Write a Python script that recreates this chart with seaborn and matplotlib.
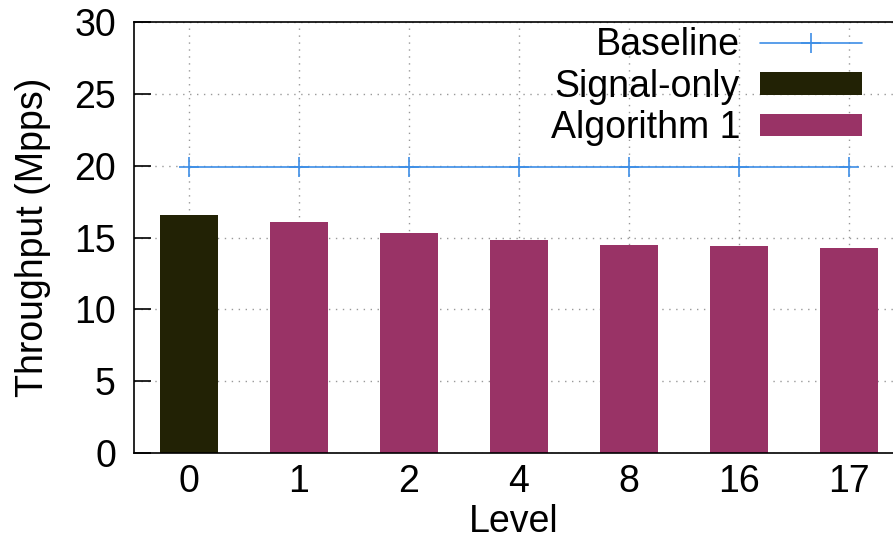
import matplotlib
matplotlib.use("Agg")
import matplotlib.pyplot as plt
import seaborn as sns
import pandas as pd
from matplotlib.patches import Patch
from matplotlib.lines import Line2D

# Throughput per level (Mpps)
levels = ["0", "1", "2", "4", "8", "16", "17"]
throughput = [16.6, 16.1, 15.3, 14.8, 14.5, 14.4, 14.3]
variant = ["Signal-only", "Algorithm 1", "Algorithm 1", "Algorithm 1",
           "Algorithm 1", "Algorithm 1", "Algorithm 1"]
baseline = [19.9, 19.9, 19.9, 19.9, 19.9, 19.9, 19.9]

colors = {"Signal-only": "#222205", "Algorithm 1": "#993366"}
baseline_color = "#3d8ee6"
FS = 27

sns.set_theme(style="white")
plt.rcParams["font.family"] = ["Liberation Sans", "DejaVu Sans"]
plt.rcParams["text.color"] = "black"

df = pd.DataFrame({"Level": levels, "Throughput": throughput, "Variant": variant})

fig = plt.figure(figsize=(8.93, 5.40), dpi=100)
ax = fig.add_axes([0.150, 0.161, 0.85, 0.798])

sns.barplot(data=df, x="Level", y="Throughput", hue="Variant", order=levels,
            hue_order=["Signal-only", "Algorithm 1"], palette=colors,
            dodge=False, width=0.52, saturation=1, edgecolor="none",
            legend=False, ax=ax, zorder=2)

sns.lineplot(x=list(range(len(levels))), y=baseline, color=baseline_color,
             marker="+", markersize=14, markeredgewidth=1.2,
             markeredgecolor=baseline_color, linewidth=1.2,
             ax=ax, zorder=3, legend=False)

ax.set_xlim(-0.5, 6.4)
ax.set_ylim(0, 30)
ax.set_yticks([0, 5, 10, 15, 20, 25, 30])
ax.set_xticks(range(len(levels)))
ax.set_xticklabels(levels)

ax.grid(True, color="#999999", linestyle=(0, (1, 4)), linewidth=1.0, zorder=0)
ax.set_axisbelow(True)

for side in ["top", "left", "bottom"]:
    ax.spines[side].set_visible(True)
    ax.spines[side].set_color("black")
    ax.spines[side].set_linewidth(1.2)
ax.spines["right"].set_visible(False)

ax.tick_params(axis="y", direction="in", length=12, width=1.2, labelsize=FS,
               pad=13, colors="black", left=True)
ax.tick_params(axis="x", length=0, labelsize=FS, pad=8, colors="black")

ax.set_xlabel("Level", fontsize=FS, labelpad=3, color="black")
ax.set_ylabel("Throughput (Mpps)", fontsize=FS, labelpad=17, color="black")

handles = [
    Line2D([0], [0], color=baseline_color, marker="+", markersize=14,
           markeredgewidth=1.2, linewidth=1.2),
    Patch(facecolor=colors["Signal-only"], edgecolor="none"),
    Patch(facecolor=colors["Algorithm 1"], edgecolor="none"),
]
labels = ["Baseline", "Signal-only", "Algorithm 1"]
leg = ax.legend(handles, labels, loc="upper right", bbox_to_anchor=(0.959, 0.989),
                frameon=False, fontsize=FS, markerfirst=False, handlelength=2.72,
                handleheight=0.55, handletextpad=0.53, labelspacing=0.15,
                borderaxespad=0.0, borderpad=0.0)
for t in leg.get_texts():
    t.set_color("black")

fig.savefig("out.png", dpi=100)
